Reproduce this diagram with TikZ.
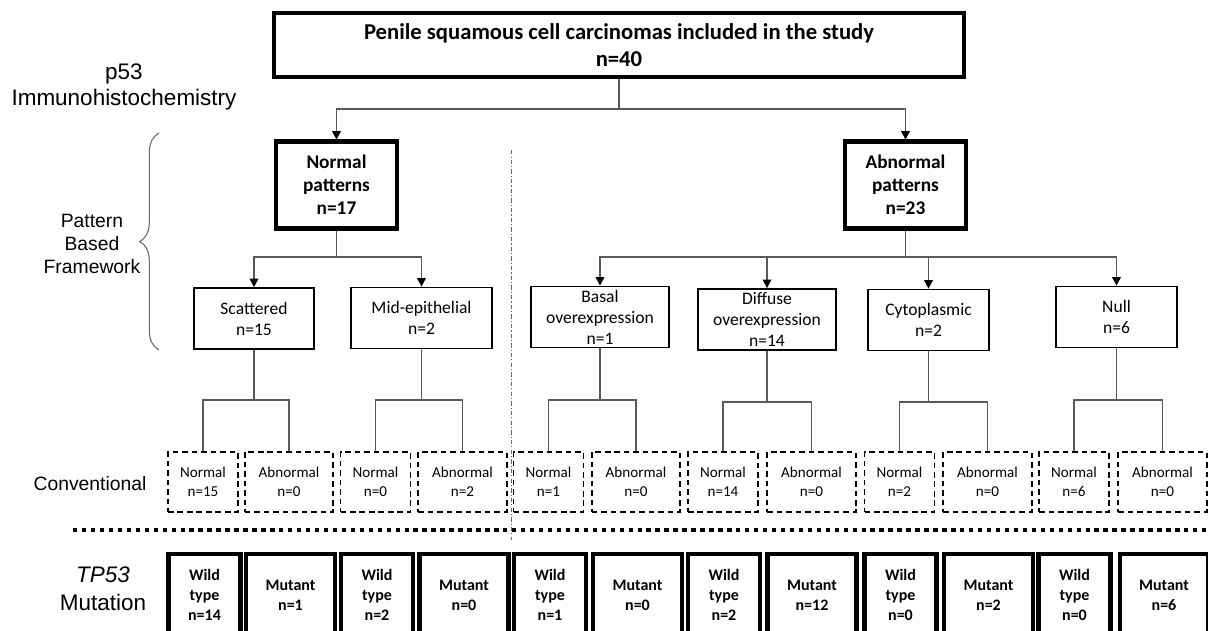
\documentclass[tikz,border=0pt]{standalone}
\usepackage{fontspec}
\setmainfont{Carlito}
\newfontfamily\arialfont{Liberation Sans}
\usetikzlibrary{arrows.meta,decorations.pathreplacing}

\begin{document}
\begin{tikzpicture}[x=0.02cm, y=-0.02cm,
        line/.style={draw=black!65, line width=0.6pt},
        arr/.style={line, -{Triangle[width=5pt,length=4.8pt,color=black]}},
        topbox/.style={draw, line width=2.7pt, align=center, inner sep=0pt,
            font=\bfseries\fontsize{12.9}{15.3}\selectfont},
        groupbox/.style={draw, line width=2.3pt, align=center, inner sep=0pt,
            minimum width=2.42cm, minimum height=1.74cm,
            font=\bfseries\fontsize{11}{13.1}\selectfont},
        patbox/.style={draw, line width=1.1pt, align=center, inner sep=0pt,
            minimum height=1.22cm, font=\fontsize{10}{12}\selectfont},
        convbox/.style={draw, line width=0.9pt, dash pattern=on 3.2pt off 2.2pt,
            align=center, inner sep=0pt, minimum height=1.2cm,
            font=\fontsize{8.6}{10.8}\selectfont},
        mutbox/.style={draw, line width=2.3pt, align=center, inner sep=0pt,
            minimum height=1.64cm, font=\bfseries\fontsize{9.1}{11.3}\selectfont},
        lbl/.style={align=center, inner sep=0pt}]

        \useasboundingbox (0, 0) rectangle (1208, 630);
        \clip (0, 0) rectangle (1208, 630);

        % side labels
        \node [lbl, font=\arialfont\fontsize{12.8}{15}\selectfont] (L1) at (124, 87) {p53\\Immunohistochemistry};
        \node [lbl, font=\arialfont\fontsize{11}{13.3}\selectfont] (L2) at (92, 244) {Pattern\\Based\\Framework};
        \node [lbl, font=\arialfont\fontsize{11}{13.3}\selectfont] (L3) at (90, 484) {Conventional};
        \node [lbl, font=\arialfont\fontsize{12.8}{15.9}\selectfont] (L4) at (103, 589) {\textit{TP53}\\Mutation};

        \coordinate (K1) at (159, 350);
        \coordinate (K2) at (159, 133);
        \draw [black!60, line width=0.6pt, decorate, decoration={brace, amplitude=11pt}] (K1) -- (K2);

        % separators
        \draw [black!60, line width=0.5pt, dash pattern=on 2.5pt off 1.2pt on 0.6pt off 1.2pt] (511, 150) -- (511, 540);
        \draw [line width=2.3pt, dash pattern=on 2.5pt off 2.6pt] (73, 530) -- (1208, 530);

        % boxes
        \node [topbox, minimum width=13.8cm, minimum height=1.28cm] (A1) at (619, 45)
            {Penile squamous cell carcinomas included in the study\\n=40};

        \node [groupbox] (B1) at (336.5, 185) {Normal\\patterns\\n=17};
        \node [groupbox] (B2) at (905.5, 185) {Abnormal\\patterns\\n=23};

        \node [patbox, minimum width=2.4cm] (C1) at (254, 318.5) {Scattered\\n=15};
        \node [patbox, minimum width=2.82cm] (C2) at (421.5, 318) {Mid-epithelial\\n=2};
        \node [patbox, minimum width=2.76cm] (C3) at (600, 317) {Basal\\overexpression\\n=1};
        \node [patbox, minimum width=2.76cm] (C4) at (767, 319.5) {Diffuse\\overexpression\\n=14};
        \node [patbox, minimum width=2.42cm] (C5) at (928.5, 320) {Cytoplasmic\\n=2};
        \node [patbox, minimum width=2.42cm] (C6) at (1116.5, 317) {Null\\n=6};

        \node [convbox, minimum width=1.4cm] (D1) at (203, 482) {Normal\\n=15};
        \node [convbox, minimum width=1.77cm] (D2) at (289, 482) {Abnormal\\n=0};
        \node [convbox, minimum width=1.4cm] (D3) at (375.5, 482) {Normal\\n=0};
        \node [convbox, minimum width=1.77cm] (D4) at (462.5, 482) {Abnormal\\n=2};
        \node [convbox, minimum width=1.4cm] (D5) at (548.5, 482) {Normal\\n=1};
        \node [convbox, minimum width=1.77cm] (D6) at (636, 482) {Abnormal\\n=0};
        \node [convbox, minimum width=1.4cm] (D7) at (723, 482) {Normal\\n=14};
        \node [convbox, minimum width=1.77cm] (D8) at (811.5, 482) {Abnormal\\n=0};
        \node [convbox, minimum width=1.4cm] (D9) at (899.5, 482) {Normal\\n=2};
        \node [convbox, minimum width=1.77cm] (D10) at (987.5, 482) {Abnormal\\n=0};
        \node [convbox, minimum width=1.4cm] (D11) at (1074, 482) {Normal\\n=6};
        \node [convbox, minimum width=1.77cm] (D12) at (1162.5, 482) {Abnormal\\n=0};

        \node [mutbox, minimum width=1.44cm] (E1) at (204.5, 595) {Wild\\type\\n=14};
        \node [mutbox, minimum width=1.78cm] (E2) at (290.5, 595) {Mutant\\n=1};
        \node [mutbox, minimum width=1.44cm] (E3) at (377, 595) {Wild\\type\\n=2};
        \node [mutbox, minimum width=1.78cm] (E4) at (464, 595) {Mutant\\n=0};
        \node [mutbox, minimum width=1.44cm] (E5) at (550, 595) {Wild\\type\\n=1};
        \node [mutbox, minimum width=1.78cm] (E6) at (637.5, 595) {Mutant\\n=0};
        \node [mutbox, minimum width=1.44cm] (E7) at (724, 595) {Wild\\type\\n=2};
        \node [mutbox, minimum width=1.78cm] (E8) at (812, 595) {Mutant\\n=12};
        \node [mutbox, minimum width=1.44cm] (E9) at (900.5, 595) {Wild\\type\\n=0};
        \node [mutbox, minimum width=1.78cm] (E10) at (988.5, 595) {Mutant\\n=2};
        \node [mutbox, minimum width=1.44cm] (E11) at (1074.5, 595) {Wild\\type\\n=0};
        \node [mutbox, minimum width=1.76cm] (E12) at (1164, 595) {Mutant\\n=6};

        % connectors
        \coordinate (J1) at (619, 109);
        \coordinate (J2) at (336.5, 257);
        \coordinate (J3) at (905.5, 257);
        \coordinate (J4) at (254, 400);
        \coordinate (J5) at (421.5, 400);
        \coordinate (J6) at (600, 400);
        \coordinate (J7) at (767, 402);
        \coordinate (J8) at (928.5, 402);
        \coordinate (J9) at (1116.5, 400);

        \draw [line] (A1) -- (J1);
        \draw [arr] (J1) -| (B1);
        \draw [arr] (J1) -| (B2);

        \draw [line] (B1) -- (J2);
        \draw [arr] (J2) -| (C1);
        \draw [arr] (J2) -| (C2);

        \draw [line] (B2) -- (J3);
        \draw [arr] (J3) -| (C3);
        \draw [arr] (J3) -| (C4);
        \draw [arr] (J3) -| (C5);
        \draw [arr] (J3) -| (C6);

        \draw [line] (C1) -- (J4);
        \draw [line] (J4) -| (D1);
        \draw [line] (J4) -| (D2);
        \draw [line] (C2) -- (J5);
        \draw [line] (J5) -| (D3);
        \draw [line] (J5) -| (D4);
        \draw [line] (C3) -- (J6);
        \draw [line] (J6) -| (D5);
        \draw [line] (J6) -| (D6);
        \draw [line] (C4) -- (J7);
        \draw [line] (J7) -| (D7);
        \draw [line] (J7) -| (D8);
        \draw [line] (C5) -- (J8);
        \draw [line] (J8) -| (D9);
        \draw [line] (J8) -| (D10);
        \draw [line] (C6) -- (J9);
        \draw [line] (J9) -| (D11);
        \draw [line] (J9) -| (D12);
    \end{tikzpicture}
\end{document}
